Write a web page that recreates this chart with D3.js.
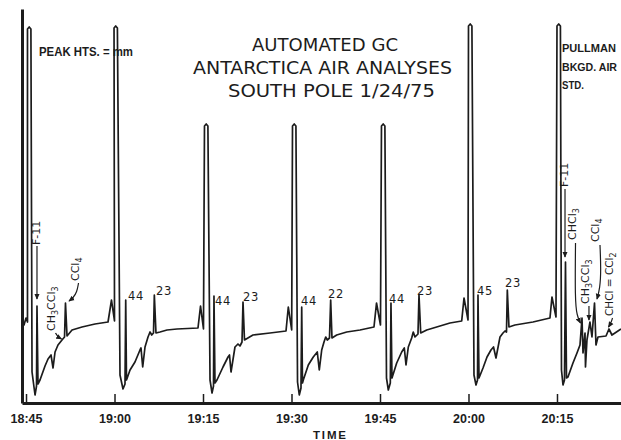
<!DOCTYPE html>
<html>
<head>
<meta charset="utf-8">
<script src="https://cdn.jsdelivr.net/npm/d3@7"></script>
<style>
  body { margin: 0; background: #fff; }
  svg { display: block; }
  text { fill: #1c1c1c; font-family: "DejaVu Sans", sans-serif; }
</style>
</head>
<body>
<script>
// chromatogram trace, one run every 15 min
// [minutes after 18:45, pen height in mm]
const run1845 = [[-0.68,38.5],[-0.34,39],[0,42.5],[0.25,40.5],[0.25,187],[0.54,188],[0.83,187],[1.02,15.5],[1.53,4],[1.78,8.5],[1.86,48.5],[2.03,9.5],[2.37,11.5],[3.22,18.5],[3.73,22],[4.24,24],[4.58,17.5],[4.92,25.5],[5.42,29],[6.10,31.5],[6.53,33],[6.69,50],[6.95,33.5],[7.80,36.5],[9.49,38],[11.69,39.5],[13.90,40.5]];
const run1900 = [[14.49,51.5],[15.0,41],[14.92,187.5],[15.2,188.5],[15.49,187.5],[15.93,14],[16.44,7],[16.78,9.5],[16.90,51.5],[17.03,11.5],[17.63,16.5],[18.47,20.5],[19.32,26.5],[19.49,27.5],[19.78,18],[20.17,28],[20.68,33],[21.02,35.5],[21.31,34],[21.61,35],[21.75,54],[22.03,35],[22.71,35.5],[23.90,36.5],[25.59,37],[29.15,37.5]];
const run1915 = [[29.58,48.5],[30.08,37],[30.25,138.5],[30.54,139.5],[30.83,138.5],[31.19,11.5],[31.53,5],[31.78,8.5],[31.86,53.5],[32.03,10],[32.37,11.5],[33.39,18],[34.24,23],[34.49,24],[34.75,15.5],[35.42,28],[35.93,29.5],[36.27,28.5],[36.61,30.5],[36.78,50.5],[37.03,31.5],[38.47,34],[41.36,35],[44.07,36]];
const run1930 = [[44.46,48],[45.03,36.5],[45.17,138.5],[45.46,139.5],[45.75,138.5],[46.02,10.5],[46.32,4],[46.61,7.5],[46.73,48],[46.86,10],[47.0,11.5],[47.85,19],[48.69,23],[49.37,25.5],[49.71,16.5],[50.12,26.5],[50.51,30.5],[50.80,33],[51.07,31.5],[51.44,32.5],[51.64,51.5],[51.86,32.5],[52.66,34],[54.36,35.5],[56.61,36.5],[58.98,38]];
const run1945 = [[59.41,50],[60.08,39],[60.25,138.5],[60.54,139.5],[60.83,138.5],[61.10,12.5],[61.41,6.5],[61.75,10],[61.86,50],[62.03,12.5],[62.83,20],[63.68,25.5],[64.12,27.5],[64.41,19],[64.80,28],[65.37,32.5],[65.64,35.5],[65.93,33],[66.44,34.5],[66.61,54],[66.90,35],[67.92,36.5],[69.61,38],[71.86,40],[73.85,41]];
const run2000 = [[74.24,52.5],[74.92,41.5],[75.0,188.5],[75.29,189.5],[75.58,188.5],[75.93,14],[76.27,9],[76.53,11.5],[76.61,54],[76.78,12.5],[77.46,17.5],[78.14,23],[78.81,26.5],[79.24,28],[79.66,22.5],[80.34,33],[80.85,35],[81.19,36],[81.44,35.5],[81.58,56.5],[81.86,38],[82.88,39],[85.93,40.5],[88.81,42.5]];
const run2015 = [[89.15,53],[89.83,43],[90.0,188.5],[90.29,189.5],[90.58,188.5],[90.76,16.5],[91.02,9],[91.27,11.5],[91.44,70.5],[91.61,12.5],[91.86,13],[92.71,20],[93.39,25],[93.90,29],[94.24,42.5],[94.41,25],[94.75,35],[94.83,18],[95.08,31.5],[95.59,40.5],[95.93,33],[96.36,50],[96.61,29],[96.95,33],[98.31,33.5],[98.81,37],[99.32,34],[100.85,37]];

// time axis
const tickMinutes = [0, 15, 30, 45, 60, 75, 90];
const tickLabels = ["18:45", "19:00", "19:15", "19:30", "19:45", "20:00", "20:15"];

// peak heights written on the chart
const peakLabels = ["44", "23", "44", "23", "44", "22", "44", "23", "45", "23"];
const peakLabelTimes = [17.29, 22.03, 32.03, 36.78, 46.61, 51.19, 61.53, 66.27, 76.44, 81.19];
const peakLabelHeights = [51.5, 54, 49, 51, 49, 52.5, 50, 54, 54, 58];

// compound names (rotated), [text, subscript?]
const compoundNames = [
  [["F-11"]],
  [["CH"], ["3", 1], ["CCl"], ["3", 1]],
  [["CCl"], ["4", 1]],
  [["F-11"]],
  [["CHCl"], ["3", 1]],
  [["CH"], ["3", 1], ["CCl"], ["3", 1]],
  [["CCl"], ["4", 1]],
  [["CHCl = CCl"], ["2", 1]]
];
const compoundTimes = [2.37, 4.92, 8.98, 91.95, 93.22, 95.51, 97.12, 99.49];
const compoundHeights = [79, 36, 61, 108, 81.5, 49.5, 80.5, 43.5];
const arrowPaths = [
  [[1.86, 78.5], [1.86, 52]],
  [[5.0, 35], [5.42, 33], [6.02, 32]],
  [[8.90, 60], [8.64, 55.5], [7.97, 52.5], [7.29, 51]],
  [[91.36, 107], [91.36, 73]],
  [[93.14, 80], [93.05, 51.5], [93.39, 43.5], [93.98, 40]],
  [[95.42, 48.5], [95.42, 41.5]],
  [[97.29, 79], [97.46, 66.5], [97.29, 57.5], [96.78, 52]],
  [[99.41, 42.5], [99.15, 40], [98.73, 38]]
];

const titleLines = ["AUTOMATED GC", "ANTARCTICA AIR ANALYSES", "SOUTH POLE  1/24/75"];
const stationLines = ["PULLMAN", "BKGD. AIR", "STD."];
const scaleNote = "PEAK HTS. = mm";
const axisTitle = "TIME";

const width = 621, height = 440;
const ink = "#1c1c1c";

const svg = d3.select("body").append("svg")
  .attr("width", width)
  .attr("height", height);

svg.append("defs").append("marker")
  .attr("id", "head")
  .attr("viewBox", "0 0 8 8")
  .attr("refX", 7).attr("refY", 4)
  .attr("markerWidth", 5).attr("markerHeight", 5)
  .attr("orient", "auto")
  .append("path")
    .attr("d", "M0,0.5L8,4L0,7.5Z")
    .attr("fill", ink);

const x = d3.scaleLinear().domain([-0.68, 100.85]).range([22, 621]);
const y = d3.scaleLinear().domain([0, 197]).range([403, 9]);

// axes
const xAxis = svg.append("g")
  .attr("transform", `translate(0,${y(0)})`)
  .call(d3.axisBottom(x)
    .tickValues(tickMinutes)
    .tickFormat((d, i) => tickLabels[i])
    .tickSizeInner(-9)
    .tickSizeOuter(0)
    .tickPadding(11));
xAxis.select(".domain").attr("stroke", ink).attr("stroke-width", 3);
xAxis.selectAll(".tick line").attr("stroke", ink).attr("stroke-width", 1.5);
xAxis.selectAll(".tick text")
  .attr("fill", ink)
  .style("font-family", "'Liberation Sans', Arial, sans-serif")
  .style("font-weight", "bold")
  .style("font-size", "12.5px");

const yAxis = svg.append("g")
  .attr("transform", `translate(${x(-0.68)},0)`)
  .call(d3.axisLeft(y).tickValues([]).tickSizeOuter(0));
yAxis.select(".domain").attr("stroke", ink).attr("stroke-width", 3);

svg.append("text")
  .attr("x", 313).attr("y", 438.5)
  .attr("textLength", 33)
  .style("font-family", "'Liberation Sans', Arial, sans-serif")
  .style("font-weight", "bold")
  .style("font-size", "11.5px")
  .text(axisTitle);

// trace
const trace = [].concat(run1845, run1900, run1915, run1930, run1945, run2000, run2015);
const line = d3.line().x(d => x(d[0])).y(d => y(d[1]));
svg.append("path")
  .datum(trace)
  .attr("d", line)
  .attr("fill", "none")
  .attr("stroke", ink)
  .attr("stroke-width", 1.7)
  .attr("stroke-linejoin", "round");

// peak height labels
svg.selectAll("text.peak")
  .data(peakLabels)
  .enter().append("text")
    .attr("class", "peak")
    .attr("x", (d, i) => x(peakLabelTimes[i]))
    .attr("y", (d, i) => y(peakLabelHeights[i]))
    .style("font-size", "11.5px")
    .style("letter-spacing", "0.6px")
    .text(d => d);

// compound names + arrows
const names = svg.selectAll("text.cmp")
  .data(compoundNames)
  .enter().append("text")
    .attr("class", "cmp")
    .attr("transform", (d, i) => `translate(${x(compoundTimes[i])},${y(compoundHeights[i])}) rotate(-90)`)
    .attr("dy", "0.36em")
    .style("font-size", (d, i) => i === 7 ? "10.5px" : "11px");
names.each(function(parts) {
  const t = d3.select(this);
  let shifted = false;
  parts.forEach(p => {
    const sub = p[1] === 1;
    let dy = 0;
    if (sub && !shifted) { dy = 3; shifted = true; }
    if (!sub && shifted) { dy = -3; shifted = false; }
    t.append("tspan")
      .attr("dy", dy)
      .style("font-size", sub ? "8px" : null)
      .text(p[0]);
  });
});

const arrowLine = d3.line().x(d => x(d[0])).y(d => y(d[1])).curve(d3.curveBasis);
svg.selectAll("path.arrow")
  .data(arrowPaths)
  .enter().append("path")
    .attr("class", "arrow")
    .attr("d", arrowLine)
    .attr("fill", "none")
    .attr("stroke", ink)
    .attr("stroke-width", 1.2)
    .attr("marker-end", "url(#head)");

// title block
const titleX = [252, 193, 228], titleW = [146, 259, 207], titleY = [50.5, 74, 96.5];
svg.selectAll("text.title")
  .data(titleLines)
  .enter().append("text")
    .attr("class", "title")
    .attr("x", (d, i) => titleX[i])
    .attr("y", (d, i) => titleY[i])
    .attr("textLength", (d, i) => titleW[i])
    .attr("lengthAdjust", "spacingAndGlyphs")
    .style("font-size", "17px")
    .text(d => d);

svg.append("text")
  .attr("x", 39).attr("y", 56)
  .attr("textLength", 94)
  .attr("lengthAdjust", "spacingAndGlyphs")
  .style("font-family", "'Liberation Sans', Arial, sans-serif")
  .style("font-weight", "bold")
  .style("font-size", "12px")
  .text(scaleNote);

const stationW = [54, 55, 22], stationY = [51.5, 70.5, 89.3];
svg.selectAll("text.station")
  .data(stationLines)
  .enter().append("text")
    .attr("class", "station")
    .attr("x", 562)
    .attr("y", (d, i) => stationY[i])
    .attr("textLength", (d, i) => stationW[i])
    .attr("lengthAdjust", "spacingAndGlyphs")
    .style("font-family", "'Liberation Sans', Arial, sans-serif")
    .style("font-weight", "bold")
    .style("font-size", "11px")
    .text(d => d);
</script>
</body>
</html>
